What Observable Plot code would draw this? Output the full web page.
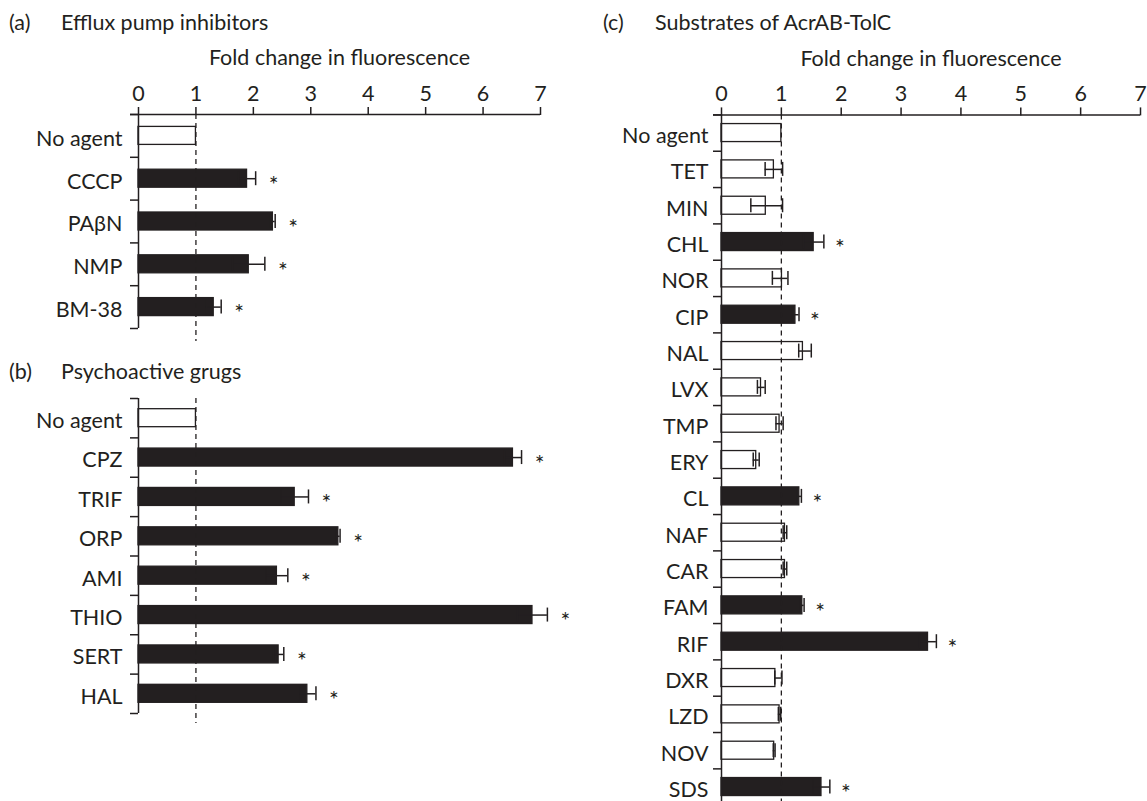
<!DOCTYPE html>
<html><head><meta charset="utf-8">
<script src="https://cdn.jsdelivr.net/npm/d3@7"></script>
<script src="https://cdn.jsdelivr.net/npm/@observablehq/plot@0.6"></script>
<style>
html,body{margin:0;padding:0;overflow:hidden;background:#fff;}
#root{position:relative;width:1147px;height:801px;overflow:hidden;font-family:Lato,sans-serif;color:#231f20;}
.t{position:absolute;font-size:21.5px;line-height:20px;white-space:nowrap;}
.p{position:absolute;}
</style></head><body><div id="root"></div>
<script>
const INK = "#231f20";
const FS = 21.5;
const xTicks = [0, 1, 2, 3, 4, 5, 6, 7];
const axisTitle = "Fold change in fluorescence";

// (a) Efflux pump inhibitors
const aLetter = "(a)", aTitle = "Efflux pump inhibitors";
const aNames = ["No agent", "CCCP", "PAβN", "NMP", "BM-38"];
const aValues = [1.00, 1.89, 2.34, 1.92, 1.31];
const aErr = [0, 0.15, 0.04, 0.28, 0.13];
const aSig = [false, true, true, true, true];

// (b) Psychoactive grugs
const bLetter = "(b)", bTitle = "Psychoactive grugs";
const bNames = ["No agent", "CPZ", "TRIF", "ORP", "AMI", "THIO", "SERT", "HAL"];
const bValues = [1.00, 6.52, 2.72, 3.48, 2.41, 6.86, 2.44, 2.94];
const bErr = [0, 0.15, 0.24, 0.03, 0.19, 0.26, 0.09, 0.15];
const bSig = [false, true, true, true, true, true, true, true];

// (c) Substrates of AcrAB-TolC
const cLetter = "(c)", cTitle = "Substrates of AcrAB-TolC";
const cNames = ["No agent", "TET", "MIN", "CHL", "NOR", "CIP", "NAL", "LVX", "TMP", "ERY", "CL", "NAF", "CAR", "FAM", "RIF", "DXR", "LZD", "NOV", "SDS"];
const cValues = [1.00, 0.875, 0.74, 1.54, 1.01, 1.235, 1.36, 0.66, 0.97, 0.58, 1.30, 1.06, 1.06, 1.35, 3.45, 0.90, 0.97, 0.88, 1.67];
const cErrMinus = [0, 0.146, 0.25, 0.17, 0.16, 0.06, 0.07, 0.06, 0.06, 0.05, 0.035, 0.03, 0.03, 0.03, 0.14, 0.01, 0.02, 0.015, 0.14];
const cErrPlus = [0, 0.146, 0.28, 0.17, 0.10, 0.06, 0.14, 0.07, 0.06, 0.05, 0.035, 0.03, 0.03, 0.03, 0.14, 0.11, 0.02, 0.015, 0.14];
const cSig = [false, false, false, true, false, true, false, false, false, false, true, false, false, true, true, false, false, false, true];

const root = document.getElementById("root");

function addText(str, left, top) {
  const d = document.createElement("div");
  d.className = "t";
  d.style.left = left + "px";
  d.style.top = top + "px";
  d.textContent = str;
  root.appendChild(d);
}

function panel(cfg) {
  const {names, values, errMinus, errPlus, sig, left, top, width, height, x0, x7, yTop, yBottom, showAxis, dashBottom, labelPad, starDx} = cfg;
  const data = names.map((name, i) => ({name, value: values[i], lo: values[i] - errMinus[i], hi: values[i] + errPlus[i], sig: sig[i]}));
  const bw = (yBottom - yTop) / names.length;
  const barInset = (bw - 18) / 2;
  const capInset = (bw - 14) / 2;
  const errData = data.filter(d => d.hi > d.lo);
  const marks = [
    Plot.barX(data, {x: "value", y: "name", fill: d => d.sig ? INK : "white", stroke: INK, strokeWidth: 1.3, insetTop: barInset, insetBottom: barInset}),
    Plot.ruleX([1], {stroke: INK, strokeWidth: 1.3, strokeDasharray: "5,4", insetBottom: -dashBottom}),
    Plot.ruleY(errData, {y: "name", x1: "lo", x2: "hi", stroke: INK, strokeWidth: 1.5}),
    Plot.tickX(errData, {x: "lo", y: "name", stroke: INK, strokeWidth: 1.5, insetTop: capInset, insetBottom: capInset}),
    Plot.tickX(errData, {x: "hi", y: "name", stroke: INK, strokeWidth: 1.5, insetTop: capInset, insetBottom: capInset}),
    Plot.ruleX([0], {stroke: INK, strokeWidth: 1.5}),
    Plot.ruleY(names, {dy: -bw / 2, x1: 0, x2: 0, insetLeft: -8, stroke: INK, strokeWidth: 1.5}),
    Plot.ruleY([names[names.length - 1]], {dy: bw / 2, x1: 0, x2: 0, insetLeft: -8, stroke: INK, strokeWidth: 1.5}),
    Plot.text(data.filter(d => d.sig), {x: "hi", y: "name", text: () => "*", dx: starDx, dy: 7, fontSize: 23, fill: INK}),
    Plot.axisY({tickSize: 0, tickPadding: labelPad, fontSize: FS, dy: 3, label: null})
  ];
  if (showAxis) {
    marks.push(
      Plot.ruleY([names[0]], {dy: -bw / 2, insetLeft: -8, stroke: INK, strokeWidth: 1.5}),
      Plot.axisX({anchor: "top", ticks: xTicks, tickFormat: d => String(d), tickSize: 8, tickPadding: 6, fontSize: FS, label: null, strokeWidth: 1.5}),
      Plot.text([axisTitle], {frameAnchor: "top", lineAnchor: "middle", dy: -56, fontSize: FS, fill: INK})
    );
  }
  const svg = Plot.plot({
    width, height,
    marginLeft: x0 - left,
    marginRight: width - (x7 - left),
    marginTop: yTop - top,
    marginBottom: height - (yBottom - top),
    x: showAxis ? {domain: [0, 7], label: null} : {domain: [0, 7], label: null, axis: null},
    y: {type: "band", domain: names, padding: 0, round: false, label: null},
    color: {type: "identity"},
    style: {fontFamily: "Lato, sans-serif", fontSize: FS + "px", color: INK, background: "transparent", overflow: "visible"},
    marks
  });
  const wrap = document.createElement("div");
  wrap.className = "p";
  wrap.style.left = left + "px";
  wrap.style.top = top + "px";
  wrap.appendChild(svg);
  root.appendChild(wrap);
}

panel({names: aNames, values: aValues, errMinus: aErr, errPlus: aErr, sig: aSig,
  left: 0, top: 0, width: 580, height: 350, x0: 138, x7: 540, yTop: 114, yBottom: 328,
  showAxis: true, dashBottom: 13, labelPad: 16, starDx: 18});
panel({names: bNames, values: bValues, errMinus: bErr, errPlus: bErr, sig: bSig,
  left: 0, top: 340, width: 580, height: 400, x0: 138, x7: 540, yTop: 398, yBottom: 713,
  showAxis: false, dashBottom: 10, labelPad: 16, starDx: 18});
panel({names: cNames, values: cValues, errMinus: cErrMinus, errPlus: cErrPlus, sig: cSig,
  left: 580, top: 0, width: 567, height: 812, x0: 721, x7: 1140, yTop: 114.4, yBottom: 804.7,
  showAxis: true, dashBottom: 0, labelPad: 13, starDx: 16});

addText(aLetter, 9, 12.4); addText(aTitle, 61, 12.4);
addText(bLetter, 9, 360.7); addText(bTitle, 61, 360.7);
addText(cLetter, 603, 12.4); addText(cTitle, 655, 12.4);
</script></body></html>
